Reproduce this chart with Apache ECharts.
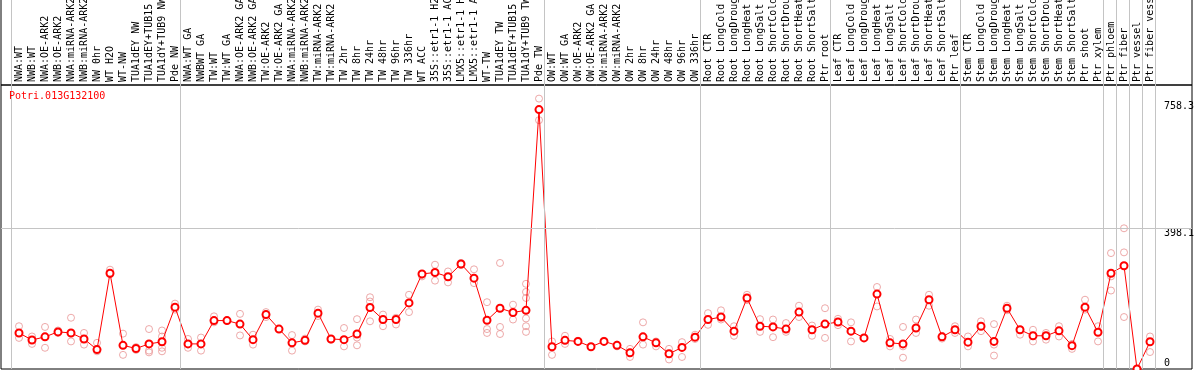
<!DOCTYPE html>
<html>
<head>
<meta charset="utf-8">
<script src="https://cdn.jsdelivr.net/npm/echarts@6/dist/echarts.min.js"></script>
<style>
  html, body { margin: 0; padding: 0; background: #fff; }
  #chart { width: 1194px; height: 370px; }
</style>
</head>
<body>
<div id="chart"></div>
<script>
const geneName = "Potri.013G132100";

const categories = [
  "NWA:WT","NWB:WT","NWA:OE-ARK2","NWB:OE-ARK2","NWA:miRNA-ARK2","NWB:miRNA-ARK2","NW 0hr","WT H2O","WT-NW","TUA1dEY NW","TUA1dEY+TUB15","TUA1dY+TUB9 NW","Pde NW",
  "NWA:WT GA","NWBWT GA","TW:WT","TW:WT GA","NWA:OE-ARK2 GA","NWB:OE-ARK2 GA","TW:OE-ARK2","TW:OE-ARK2 GA","NWA:miRNA-ARK2","NWB:miRNA-ARK2","TW:miRNA-ARK2","TW:miRNA-ARK2","TW 2hr","TW 8hr","TW 24hr","TW 48hr","TW 96hr","TW 336hr","WT ACC","35S::etr1-1 H2O","35S::etr1-1 ACC","LMX5::etr1-1 H2O","LMX5::etr1-1 ACC","WT-TW","TUA1dEY TW","TUA1dEY+TUB15","TUA1dY+TUB9 TW","Pde TW",
  "OW:WT","OW:WT GA","OW:OE-ARK2","OW:OE-ARK2 GA","OW:miRNA-ARK2","OW:miRNA-ARK2","OW 2hr","OW 8hr","OW 24hr","OW 48hr","OW 96hr","OW 336hr",
  "Root CTR","Root LongCold","Root LongDrought","Root LongHeat","Root LongSalt","Root ShortCold","Root ShortDrought","Root ShortHeat","Root ShortSalt","Ptr root",
  "Leaf CTR","Leaf LongCold","Leaf LongDrought","Leaf LongHeat","Leaf LongSalt","Leaf ShortCold","Leaf ShortDrought","Leaf ShortHeat","Leaf ShortSalt","Ptr leaf",
  "Stem CTR","Stem LongCold","Stem LongDrought","Stem LongHeat","Stem LongSalt","Stem ShortCold","Stem ShortDrought","Stem ShortHeat","Stem ShortSalt","Ptr shoot","Ptr xylem",
  "Ptr phloem","Ptr fiber","Ptr vessel","Ptr fiber vessel"
];

const means = [
  102, 82, 91, 105, 102, 85, 55, 271, 67, 58, 71, 77, 175,
  71, 71, 137, 137, 127, 83, 154, 113, 74, 81, 158, 85, 83, 99, 174, 140, 140, 187, 269, 273, 261, 297, 257, 138, 172, 160, 166, 734,
  63, 81, 78, 63, 78, 67, 46, 91, 74, 43, 61, 90,
  140, 147, 107, 201, 121, 119, 113, 161, 111, 127,
  133, 107, 88, 212, 74, 71, 116, 196, 91, 111,
  76, 121, 78, 172, 111, 94, 94, 108, 66, 175, 104,
  271, 292, 0, 77
];

const replicates = [
  [121, 88, 102], [92, 71, 82], [119, 60], [109, 102], [145, 78, 102], [102, 69], [74, 50], [281, 268], [100, 40], [62, 54], [113, 52, 47], [109, 92, 50, 60], [185, 168],
  [85, 60], [89, 52], [149, 132], [137], [156, 95], [97, 69], [161, 147], [113], [96, 52], [86, 78], [168, 150], [85, 83], [116, 64], [141, 89, 67], [203, 191, 135], [154, 121], [145, 126], [210, 161], [266, 262], [295, 250], [276, 245], [300, 294], [282, 243], [189, 113, 102], [300, 119, 99], [182, 140], [241, 218, 201, 166, 143, 121, 105], [765, 704],
  [78, 40], [94, 71], [80, 78], [63], [80], [69, 64], [57, 34], [132, 69], [78, 64], [57, 27], [76, 34], [97, 85],
  [158, 125], [166, 140], [121, 94], [210, 195], [141, 105], [140, 90], [130, 105], [179, 147], [123, 94], [172, 88],
  [142, 124], [132, 78], [88], [232, 177], [85, 64], [119, 32, 64], [140, 102], [210, 179], [94, 86], [121, 102],
  [92, 64], [135, 107], [127, 38, 69], [179, 166], [97, 111], [111, 78], [102, 83], [121, 92], [71, 57], [196, 168], [121, 78],
  [328, 262, 222], [398.1, 330, 147], [0, 0], [92, 48]
];

// index of the last category of each group (a separator is drawn after it)
const groupEnds = [-1, 12, 40, 52, 62, 72, 83, 84, 85, 86, 87];
const yTickValues = [0, 398.1, 758.3];
const yGridValues = [398.1];

const X_MIN = -18 / 13;
const X_MAX = X_MIN + 1191 / 13;
const Y_MAX = 803.5;
const FONT = '"DejaVu Sans Mono", monospace';
const SEP_COLOR = '#c4c4c4';

const meanData = means.map((v, i) => [i, v]);
const repData = [];
replicates.forEach((arr, i) => arr.forEach(v => repData.push([i, v])));

const sepLines = groupEnds.map(e => ({ xAxis: e + 1 - 8 / 13 }));
const hLines = yGridValues.map(v => ({ yAxis: v }));

const chart = echarts.init(document.getElementById('chart'), null, { renderer: 'canvas' });
chart.setOption({
  animation: false,
  backgroundColor: '#fff',
  title: {
    text: geneName, left: 9, top: 91, padding: 0,
    textStyle: { color: '#ff0000', fontFamily: FONT, fontSize: 10, fontWeight: 'normal' }
  },
  grid: [
    { left: 1, right: 2, top: 85, bottom: 1, show: true, borderColor: '#000', borderWidth: 1, containLabel: false, outerBoundsMode: 'none' },
    { left: 1, right: 2, top: -1, height: 86, show: true, borderColor: '#000', borderWidth: 1, containLabel: false, outerBoundsMode: 'none' }
  ],
  xAxis: [
    {
      gridIndex: 0, type: 'value', min: X_MIN, max: X_MAX, position: 'top',
      axisLine: { show: false },
      axisTick: { show: false },
      splitLine: { show: false },
      axisLabel: {
        customValues: categories.map((c, i) => i),
        formatter: v => categories[Math.round(v)] || '',
        rotate: 90, margin: 3, color: '#000', fontFamily: FONT, fontSize: 10,
        hideOverlap: false
      }
    },
    {
      gridIndex: 1, type: 'value', min: X_MIN, max: X_MAX, show: false
    }
  ],
  yAxis: [
    {
      gridIndex: 0, type: 'value', min: 0, max: Y_MAX, position: 'right',
      axisLine: { show: false }, axisTick: { show: false }, axisLabel: { show: false }, splitLine: { show: false }
    },
    {
      gridIndex: 1, type: 'value', min: 0, max: 1, show: false
    }
  ],
  series: [
    {
      type: 'scatter', name: 'replicates', data: repData, z: 2,
      xAxisIndex: 0, yAxisIndex: 0,
      symbol: 'circle', symbolSize: 7,
      itemStyle: { color: 'rgba(0,0,0,0)', borderColor: '#e99393', borderWidth: 1 },
      silent: true
    },
    {
      type: 'line', name: 'mean', data: meanData, z: 3,
      xAxisIndex: 0, yAxisIndex: 0,
      symbol: 'emptyCircle', symbolSize: 7,
      lineStyle: { color: '#ff0000', width: 1 },
      itemStyle: { color: '#ff0000', borderColor: '#ff0000', borderWidth: 1.5 },
      silent: true,
      markLine: {
        silent: true, symbol: 'none', animation: false,
        label: { show: false },
        lineStyle: { color: SEP_COLOR, width: 1, type: 'solid' },
        data: sepLines.concat(hLines)
      }
    },
    {
      type: 'line', name: 'header separators', z: 1,
      xAxisIndex: 1, yAxisIndex: 1,
      data: [[X_MIN, 0]], showSymbol: false, symbol: 'none',
      lineStyle: { opacity: 0 },
      silent: true,
      markLine: {
        silent: true, symbol: 'none', animation: false,
        label: { show: false },
        lineStyle: { color: SEP_COLOR, width: 1, type: 'solid' },
        data: sepLines
      }
    },
    {
      type: 'custom', name: 'ylabels', z: 4, silent: true,
      xAxisIndex: 0, yAxisIndex: 0,
      data: yTickValues.map(v => [X_MAX, v]),
      renderItem: (params, api) => {
        const v = api.value(1);
        const p = api.coord([api.value(0), v]);
        const isZero = v === 0;
        return {
          type: 'text',
          style: {
            text: String(v), x: api.getWidth() - 30, y: isZero ? p[1] - 1 : p[1],
            fill: '#000', font: '10px ' + FONT,
            align: 'left', verticalAlign: isZero ? 'bottom' : 'top'
          }
        };
      }
    }
  ]
});
</script>
</body>
</html>
